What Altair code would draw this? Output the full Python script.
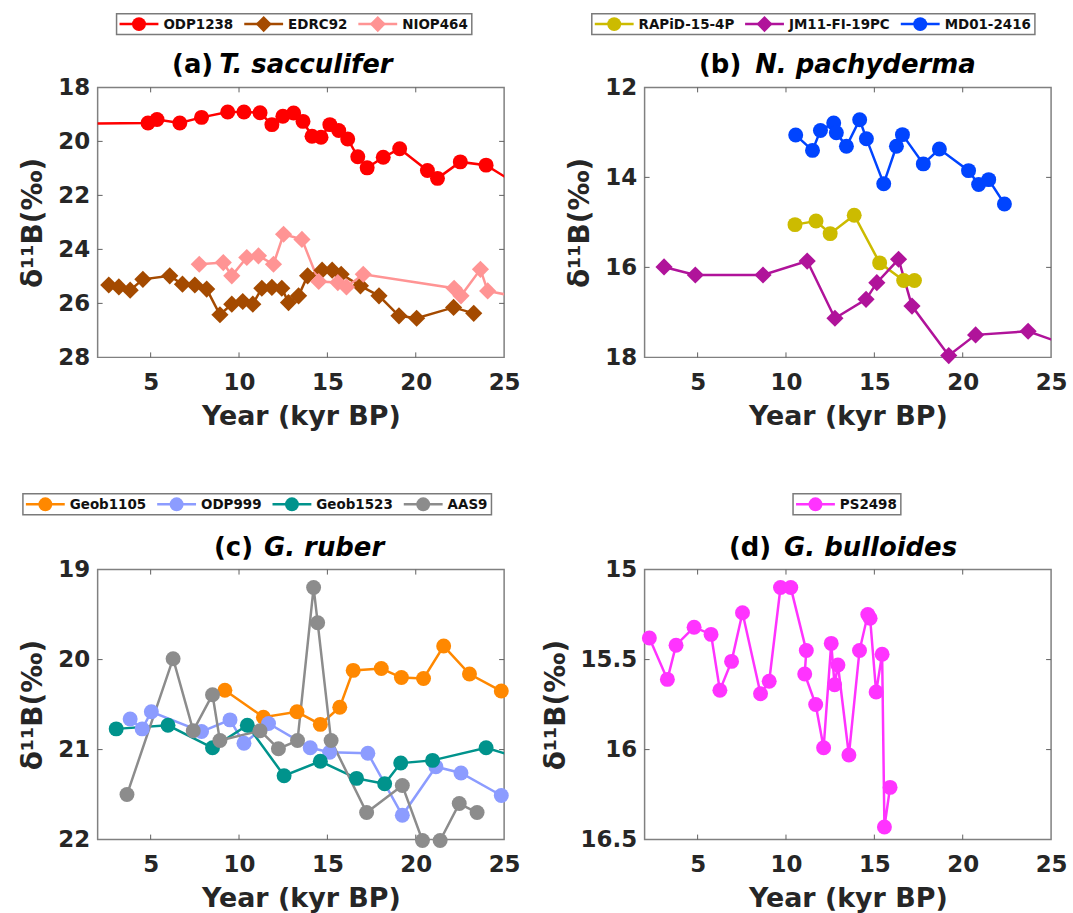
import altair as alt
import pandas as pd

# ---------------- data ----------------
XTICKS = [5, 10, 15, 20, 25]
XTICKS_IN = [5, 10, 15, 20]

# (a) T. sacculifer
a_names = ["ODP1238", "EDRC92", "NIOP464"]
a_colors = ["#FF0000", "#A44A00", "#FF9494"]
a_shapes = ["circle", "diamond", "diamond"]
odp1238_x = [0.5, 4.85, 5.36, 6.65, 7.88, 9.36, 10.28, 11.19, 11.86, 12.48, 13.09, 13.62, 14.13, 14.64,
             15.14, 15.64, 16.15, 16.72, 17.25, 18.16, 19.09, 20.66, 21.23, 22.52, 23.98, 26.2]
odp1238_y = [19.35, 19.32, 19.19, 19.32, 19.11, 18.91, 18.91, 18.94, 19.38, 19.07, 18.95, 19.26, 19.81, 19.85,
             19.38, 19.6, 19.91, 20.57, 20.98, 20.59, 20.27, 21.08, 21.37, 20.76, 20.88, 21.78]
edrc92_x = [2.63, 3.2, 3.84, 4.56, 6.08, 6.8, 7.5, 8.17, 8.92, 9.59, 10.21, 10.78, 11.29, 11.86, 12.42, 12.8,
            13.37, 13.88, 14.7, 15.27, 15.78, 16.87, 17.92, 19.05, 20.05, 22.14, 23.28]
edrc92_y = [25.32, 25.39, 25.51, 25.11, 24.98, 25.29, 25.32, 25.47, 26.42, 26.03, 25.93, 26.03, 25.44, 25.41,
            25.44, 25.97, 25.72, 24.98, 24.77, 24.77, 24.92, 25.35, 25.72, 26.46, 26.55, 26.15, 26.37]
niop464_x = [7.75, 9.11, 9.59, 10.44, 11.1, 11.95, 12.52, 13.56, 14.51, 15.59, 16.08, 17.03, 22.17, 22.56,
             23.66, 24.07, 26.0]
niop464_y = [24.55, 24.49, 24.98, 24.3, 24.24, 24.55, 23.44, 23.63, 25.19, 25.23, 25.39, 24.92, 25.44, 25.72,
             24.74, 25.54, 25.79]

# (b) N. pachyderma
b_names = ["RAPiD-15-4P", "JM11-FI-19PC", "MD01-2416"]
b_colors = ["#CCBB00", "#B0139A", "#0044FF"]
b_shapes = ["circle", "diamond", "circle"]
rapid_x = [10.51, 11.7, 12.5, 13.86, 15.3, 16.66, 17.27]
rapid_y = [15.05, 14.97, 15.25, 14.84, 15.9, 16.29, 16.29]
jm11_x = [3.1, 4.87, 8.7, 11.2, 12.77, 14.53, 15.14, 16.37, 17.13, 19.21, 20.73, 23.7, 26.5]
jm11_y = [15.99, 16.17, 16.17, 15.86, 17.13, 16.71, 16.34, 15.82, 16.86, 17.96, 17.5, 17.42, 17.81]
md01_x = [10.55, 11.5, 11.95, 12.7, 12.85, 13.42, 14.17, 14.55, 15.53, 16.25, 16.59, 17.77, 18.68, 20.33,
          20.9, 21.47, 22.36]
md01_y = [13.06, 13.4, 12.96, 12.79, 13.01, 13.31, 12.72, 13.14, 14.14, 13.31, 13.05, 13.7, 13.37, 13.85,
          14.16, 14.05, 14.59]

# (c) G. ruber
c_names = ["Geob1105", "ODP999", "Geob1523", "AAS9"]
c_colors = ["#FF8800", "#8C9CFF", "#00938C", "#8C8C8C"]
c_shapes = ["circle", "circle", "circle", "circle"]
geob1105_x = [9.2, 11.38, 13.28, 14.6, 15.7, 16.46, 18.05, 19.19, 20.44, 21.58, 23.04, 24.84]
geob1105_y = [20.34, 20.64, 20.58, 20.72, 20.53, 20.12, 20.1, 20.2, 20.21, 19.85, 20.16, 20.35]
odp999_x = [3.84, 4.52, 5.04, 7.88, 9.49, 10.28, 11.67, 14.03, 15.13, 17.29, 19.24, 21.14, 22.56, 24.84]
odp999_y = [20.66, 20.77, 20.58, 20.8, 20.67, 20.93, 20.71, 20.98, 21.03, 21.04, 21.73, 21.19, 21.26, 21.51]
geob1523_x = [3.05, 5.98, 8.5, 10.47, 12.55, 14.6, 16.65, 18.24, 19.15, 20.95, 23.98, 26.0]
geob1523_y = [20.77, 20.73, 20.98, 20.73, 21.29, 21.13, 21.32, 21.38, 21.15, 21.12, 20.98, 21.1]
aas9_x = [3.66, 6.27, 7.41, 8.5, 8.92, 11.19, 12.23, 13.31, 14.22, 14.45, 15.21, 17.22, 19.24, 20.38, 21.38,
          22.46, 23.47]
aas9_y = [21.5, 19.99, 20.79, 20.39, 20.9, 20.79, 20.99, 20.9, 19.2, 19.59, 20.9, 21.7, 21.4, 22.01, 22.01,
          21.6, 21.7]

# (d) G. bulloides
d_names = ["PS2498"]
d_colors = ["#FF33FF"]
d_shapes = ["circle"]
ps2498_x = [2.27, 3.29, 3.78, 4.8, 5.76, 6.26, 6.92, 7.54, 8.56, 9.05, 9.69, 10.27, 11.15, 11.06, 11.68, 12.13,
            12.56, 12.75, 12.94, 13.56, 14.16, 14.63, 14.76, 15.1, 15.44, 15.57, 15.89]
ps2498_y = [15.38, 15.61, 15.42, 15.32, 15.36, 15.67, 15.51, 15.24, 15.69, 15.62, 15.1, 15.1, 15.45, 15.58,
            15.75, 15.99, 15.41, 15.64, 15.53, 16.03, 15.45, 15.25, 15.27, 15.68, 15.47, 16.43, 16.21]

# ---------------- styling ----------------
FONT = "DejaVu Sans"
W, H = 408, 271
SHAPE_PATHS = {
    "circle": "circle",
    "diamond": "M0,-1.15L1.15,0L0,1.15L-1.15,0Z",
}
TICK_COLOR = "#606060"
LEG_FS = 13.5
TITLE_FS = 26
# approximate advance widths (em) of DejaVu Sans Bold, used to lay out the legend boxes
CW = {"O": 0.85, "D": 0.83, "P": 0.733, "E": 0.683, "R": 0.77, "C": 0.734, "N": 0.837, "I": 0.372,
      "A": 0.774, "J": 0.372, "M": 0.995, "F": 0.683, "G": 0.821, "S": 0.72, "B": 0.762,
      "i": 0.343, "e": 0.678, "o": 0.687, "b": 0.716, "-": 0.415}


def text_w(s, fs):
    return sum(CW.get(ch, 0.696) for ch in s) * fs


def legend_layers(names, colors, shapes, legx, legy):
    rows = []
    cx = legx + 3
    for n, c, s in zip(names, colors, shapes):
        tw = text_w(n, LEG_FS)
        rows.append({"name": n, "color": c, "shp": SHAPE_PATHS[s],
                     "x0": cx, "x1": cx + 39, "mx": cx + 19.5, "tx": cx + 44})
        cx += 44 + tw + 11
    box_right = cx - 11 + 4
    ldf = pd.DataFrame(rows)
    cy = legy + 10.5
    one = alt.Chart(pd.DataFrame({"t": [0]}))
    frame = one.mark_rect(fill="white", stroke="#7a7a7a", strokeWidth=1.5).encode(
        x=alt.value(legx), x2=alt.value(box_right), y=alt.value(legy), y2=alt.value(legy + 21))
    lc = alt.Chart(ldf)
    lines = lc.mark_rule(strokeWidth=2.5).encode(
        x=alt.X("x0:Q", scale=None), x2="x1:Q", y=alt.value(cy), color=alt.Color("color:N", scale=None))
    marks = lc.mark_point(filled=True, size=196, opacity=1, strokeWidth=0).encode(
        x=alt.X("mx:Q", scale=None), y=alt.value(cy),
        fill=alt.Fill("color:N", scale=None), shape=alt.Shape("shp:N", scale=None))
    labels = lc.mark_text(font=FONT, fontSize=LEG_FS, fontWeight="bold", align="left", baseline="middle",
                          color="#111111").encode(
        x=alt.X("tx:Q", scale=None), y=alt.value(cy + 0.5), text="name:N")
    return [frame, lines, marks, labels]


def panel(names, colors, shapes, xs_list, ys_list, ydom, yticks, tag, species,
          tag_end, sp_start, legx, legy):
    rows = []
    for n, xs, ys in zip(names, xs_list, ys_list):
        for i, (xv, yv) in enumerate(zip(xs, ys)):
            rows.append({"series": n, "x": xv, "y": yv, "idx": i})
    df = pd.DataFrame(rows)

    xscale = alt.Scale(domain=[2, 25], nice=False, zero=False)
    yscale = alt.Scale(domain=ydom, reverse=True, nice=False, zero=False)
    X = alt.X("x:Q", scale=xscale,
              axis=alt.Axis(values=XTICKS, title="Year (kyr BP)", ticks=False, tickSize=0, labelFlush=False,
                            domain=False, grid=False, labelPadding=14, titlePadding=9, titleFontSize=27))
    Y = alt.Y("y:Q", scale=yscale,
              axis=alt.Axis(values=yticks, title="δ¹¹B(‰)", format="~g", ticks=False, tickSize=0,
                            labelFlush=False, domain=False, grid=False, labelPadding=8, titlePadding=10,
                            titleFontSize=28))

    col_scale = alt.Scale(domain=names, range=colors)
    shp_scale = alt.Scale(domain=names, range=[SHAPE_PATHS[s] for s in shapes])

    base = alt.Chart(df)
    line = base.mark_line(strokeWidth=2.5, clip=True).encode(
        x=X, y=Y,
        stroke=alt.Stroke("series:N", scale=col_scale, legend=None),
        order="idx:Q",
    )
    pts = base.transform_filter("datum.x >= 2 && datum.x <= 25").mark_point(
        filled=True, size=225, opacity=1, strokeWidth=0
    ).encode(
        x=X, y=Y,
        fill=alt.Fill("series:N", scale=col_scale, legend=None),
        shape=alt.Shape("series:N", scale=shp_scale, legend=None),
    )

    # inward ticks (MATLAB-style box ticks)
    xt = alt.Chart(pd.DataFrame({"x": XTICKS_IN}))
    yt = alt.Chart(pd.DataFrame({"y": yticks[1:-1]}))
    tk = dict(color=TICK_COLOR, strokeWidth=1)
    ticks = [
        xt.mark_rule(**tk).encode(x=X, y=alt.value(H), y2=alt.value(H - 5)),
        xt.mark_rule(**tk).encode(x=X, y=alt.value(0), y2=alt.value(5)),
        yt.mark_rule(**tk).encode(y=Y, x=alt.value(0), x2=alt.value(5)),
        yt.mark_rule(**tk).encode(y=Y, x=alt.value(W - 5), x2=alt.value(W)),
    ]

    one = alt.Chart(pd.DataFrame({"t": [0]}))
    t1 = one.mark_text(font=FONT, fontSize=TITLE_FS, fontWeight="bold", align="right",
                       baseline="alphabetic", color="black").encode(
        x=alt.value(tag_end), y=alt.value(-14), text=alt.value(tag))
    t2 = one.mark_text(font=FONT, fontSize=TITLE_FS, fontWeight="bold", fontStyle="italic", align="left",
                       baseline="alphabetic", color="black").encode(
        x=alt.value(sp_start), y=alt.value(-14), text=alt.value(species))

    leg = legend_layers(names, colors, shapes, legx, legy)
    return alt.layer(*ticks, line, pts, t1, t2, *leg).properties(width=W, height=H).resolve_scale(
        stroke="independent", fill="independent", shape="independent")


pa = panel(a_names, a_colors, a_shapes, [odp1238_x, edrc92_x, niop464_x], [odp1238_y, edrc92_y, niop464_y],
           [18, 28], [18, 20, 22, 24, 26, 28], "(a)", "T. sacculifer", 116, 122, 19, -74)
pb = panel(b_names, b_colors, b_shapes, [rapid_x, jm11_x, md01_x], [rapid_y, jm11_y, md01_y],
           [12, 18], [12, 14, 16, 18], "(b)", "N. pachyderma", 97, 111, -53, -74)
pc = panel(c_names, c_colors, c_shapes, [geob1105_x, odp999_x, geob1523_x, aas9_x],
           [geob1105_y, odp999_y, geob1523_y, aas9_y],
           [19, 22], [19, 20, 21, 22], "(c)", "G. ruber", 156, 167, -75, -76)
pd_ = panel(d_names, d_colors, d_shapes, [ps2498_x], [ps2498_y],
            [15, 16.5], [15, 15.5, 16, 16.5], "(d)", "G. bulloides", 127, 140, 149, -76)

chart = alt.concat(pa, pb, pc, pd_, columns=2, spacing={"row": 213, "column": 141}, bounds="flush").resolve_scale(
    stroke="independent", fill="independent", shape="independent", x="independent", y="independent"
).properties(
    padding={"left": 19, "top": 10, "right": 5, "bottom": 3}
).configure(font=FONT).configure_view(stroke="#808080", strokeWidth=1.5).configure_axis(
    labelFont=FONT, labelFontSize=23, labelFontWeight="bold", labelColor="#262626",
    titleFont=FONT, titleFontWeight="bold", titleColor="#262626",
)

chart.save("out.html", embed_options={"renderer": "svg", "actions": False})
